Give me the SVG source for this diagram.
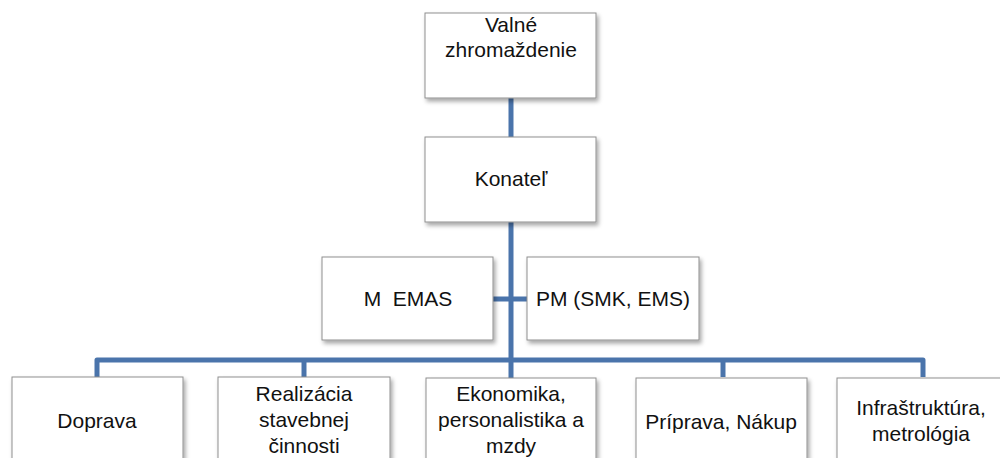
<svg xmlns="http://www.w3.org/2000/svg" width="1000" height="458" viewBox="0 0 1000 458">
<defs>
<filter id="sh" x="-10%" y="-10%" width="130%" height="140%">
<feDropShadow dx="2" dy="3" stdDeviation="2" flood-color="#000" flood-opacity="0.35"/>
</filter>
<style>
.box{fill:#fff;stroke:#8f8f8f;stroke-width:1;filter:url(#sh)}
.t{font-family:"Liberation Sans",Arial,sans-serif;font-size:21px;fill:#111;text-anchor:middle}
.c{fill:none;stroke:#4a74ab;stroke-width:5;stroke-linejoin:round}
</style>
</defs>
<rect width="1000" height="458" fill="#fff"/>
<g id="connectors">
<path class="c" d="M511 98 V137"/>
<path class="c" d="M511 222 V378"/>
<path class="c" d="M493 299 H527"/>
<path class="c" d="M97 377 V360 H923 V377"/>
<path class="c" d="M304 360 V377"/>
<path class="c" d="M723 360 V377"/>
</g>
<g id="valne">
<rect class="box" x="425" y="13" width="171" height="85"/>
<text class="t" x="511" y="32">Valné</text>
<text class="t" x="511" y="57">zhromaždenie</text>
</g>
<g id="konatel">
<rect class="box" x="425" y="137" width="171" height="85"/>
<text class="t" x="511" y="186">Konateľ</text>
</g>
<g id="memas">
<rect class="box" x="322" y="257" width="171" height="83"/>
<text class="t" x="408" y="306" xml:space="preserve">M  EMAS</text>
</g>
<g id="pm">
<rect class="box" x="527" y="257" width="172" height="83"/>
<text class="t" x="613" y="306">PM (SMK, EMS)</text>
</g>
<g id="doprava">
<rect class="box" x="12" y="377" width="171" height="90"/>
<text class="t" x="97" y="428">Doprava</text>
</g>
<g id="realizacia">
<rect class="box" x="218" y="377" width="172" height="90"/>
<text class="t" x="304" y="401">Realizácia</text>
<text class="t" x="304" y="427">stavebnej</text>
<text class="t" x="304" y="453">činnosti</text>
</g>
<g id="ekonomika">
<rect class="box" x="426" y="378" width="170" height="90"/>
<text class="t" x="511" y="401">Ekonomika,</text>
<text class="t" x="511" y="427">personalistika a</text>
<text class="t" x="511" y="453">mzdy</text>
</g>
<g id="priprava">
<rect class="box" x="636" y="378" width="171" height="90"/>
<text class="t" x="721" y="429">Príprava, Nákup</text>
</g>
<g id="infra">
<rect class="box" x="837" y="378" width="171" height="90"/>
<text class="t" x="921" y="415">Infraštruktúra,</text>
<text class="t" x="921" y="441">metrológia</text>
</g>
</svg>
